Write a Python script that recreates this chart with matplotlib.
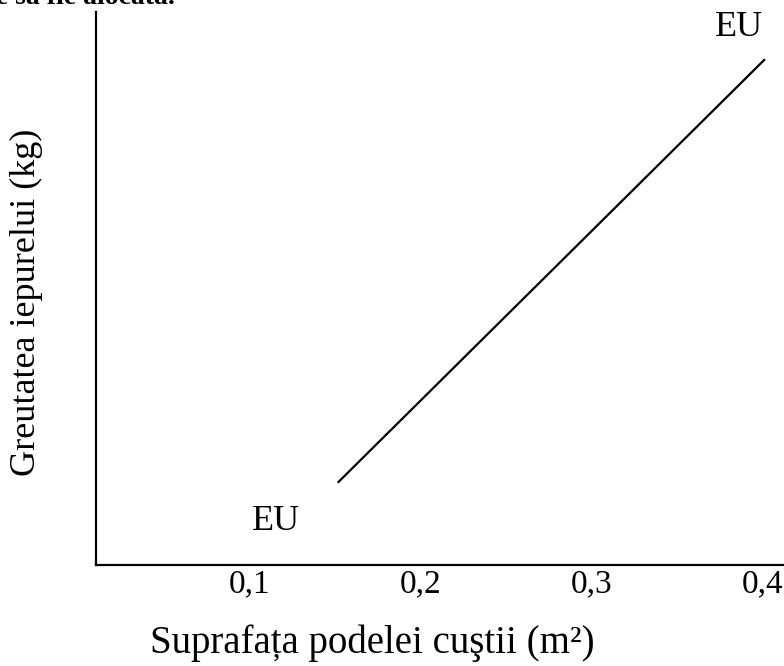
import matplotlib.pyplot as plt

# data (y in arbitrary units, no ticks shown)
x_line = [0.152, 0.401]
y_line = [0.83, 5.05]
tick_pos = [0.1, 0.2, 0.3, 0.4]
tick_lbl = ['0,1', '0,2', '0,3', '0,4']
eu_x = [0.1155, 0.386]
eu_y = [0.44, 5.38]

plt.rcParams['font.family'] = ['Liberation Serif', 'DejaVu Serif']

fig = plt.figure(figsize=(7.84, 6.66), dpi=100)
ax = fig.add_axes([96/784, 101/666, 688/784, 553/666])

ax.plot(x_line, y_line, 'k-', lw=1.6)
for xx, yy in zip(eu_x, eu_y):
    ax.text(xx, yy, 'EU', fontsize=26, ha='center', va='center')

ax.set_xlim(0.0102, 0.4126)
ax.set_ylim(0, 5.53)
ax.set_xticks(tick_pos)
ax.set_xticklabels(tick_lbl, fontsize=24)
ax.set_yticks([])
ax.tick_params(axis='x', length=0, pad=3)
ax.spines['top'].set_visible(False)
ax.spines['right'].set_visible(False)
for s in ['left', 'bottom']:
    ax.spines[s].set_linewidth(1.6)

ax.set_xlabel('Suprafața podelei cuştii (m²)', fontsize=28, va='center')
ax.xaxis.set_label_coords(276/688, -78/553)
ax.set_ylabel('Greutatea iepurelui (kg)', fontsize=26, va='center')
ax.yaxis.set_label_coords(-70/688, 0.475)

# cut-off line of the page text above the chart
fig.text(-12/784, 1 - 4/666, 'le să fie alocată.', fontsize=20, fontweight='bold',
         va='baseline', ha='left')

fig.savefig('out.png', dpi=100)
